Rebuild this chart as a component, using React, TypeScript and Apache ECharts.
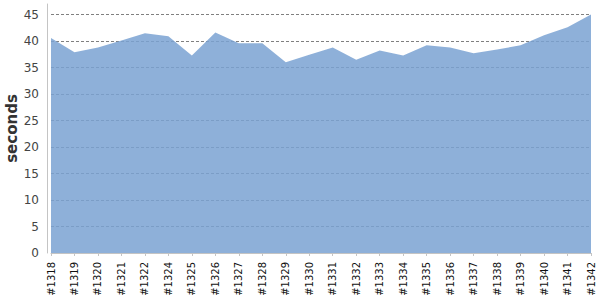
import React, { useEffect, useRef } from "react";
import * as echarts from "echarts";

const categories = [
  "#1318", "#1319", "#1320", "#1321", "#1322", "#1324", "#1325", "#1326",
  "#1327", "#1328", "#1329", "#1330", "#1331", "#1332", "#1333", "#1334",
  "#1335", "#1336", "#1337", "#1338", "#1339", "#1340", "#1341", "#1342",
];
const seconds = [
  40.6, 37.9, 38.8, 40.1, 41.5, 40.9, 37.3, 41.6,
  39.6, 39.6, 36.0, 37.4, 38.8, 36.5, 38.2, 37.3,
  39.2, 38.8, 37.7, 38.4, 39.2, 41.1, 42.6, 45.0,
];
const yName = "seconds";

export default function App() {
  const ref = useRef<HTMLDivElement>(null);
  useEffect(() => {
    if (!ref.current) return;
    const chart = echarts.init(ref.current, null, { renderer: "svg" });
    chart.setOption({
      animation: false,
      textStyle: { fontFamily: "DejaVu Sans" },
      grid: {
        left: 51,
        right: 9,
        top: 4,
        bottom: 47,
        containLabel: false,
        outerBoundsMode: "none",
      },
      xAxis: {
        type: "category",
        data: categories,
        boundaryGap: false,
        offset: 3,
        axisLine: { lineStyle: { color: "#c4c4c4", width: 1 } },
        axisTick: { show: true, length: 3, lineStyle: { color: "#c4c4c4" } },
        axisLabel: {
          rotate: 90,
          interval: 0,
          margin: 6,
          color: "#111",
          fontSize: 10,
          fontFamily: "DejaVu Sans",
        },
        splitLine: { show: false },
      },
      yAxis: {
        type: "value",
        min: 0,
        max: 47,
        interval: 5,
        offset: 4,
        name: yName,
        nameLocation: "middle",
        nameGap: 28,
        nameMoveOverlap: false,
        nameTextStyle: {
          fontSize: 15,
          fontWeight: "bold",
          color: "#333",
          fontFamily: "DejaVu Sans",
        },
        axisLine: { show: true, lineStyle: { color: "#c4c4c4", width: 1 } },
        axisTick: { show: false },
        axisLabel: {
          showMaxLabel: false,
          margin: 8,
          color: "#444",
          fontSize: 12,
          fontFamily: "DejaVu Sans",
        },
        splitLine: {
          show: true,
          showMaxLine: false,
          showMinLine: false,
          lineStyle: { color: "#808080", type: [3, 2], width: 1 },
        },
      },
      series: [
        {
          type: "line",
          data: seconds,
          symbol: "none",
          lineStyle: { width: 0 },
          areaStyle: { color: "rgb(122,162,210)", opacity: 0.85 },
        },
      ],
    });
    return () => chart.dispose();
  }, []);
  return (
    <div
      ref={ref}
      style={{ position: "absolute", left: 0, top: 0, width: 600, height: 300 }}
    />
  );
}
